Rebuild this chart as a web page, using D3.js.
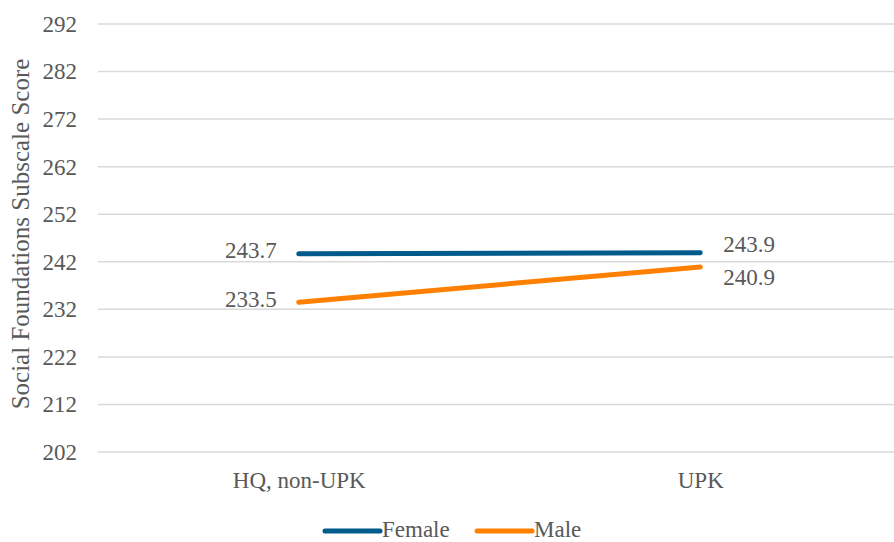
<!DOCTYPE html>
<html>
<head>
<meta charset="utf-8">
<script src="https://cdn.jsdelivr.net/npm/d3@7"></script>
<style>
  html, body { margin: 0; padding: 0; background: #fff; }
  #chart { width: 894px; height: 542px; }
  svg text { font-family: "Liberation Serif", "Times New Roman", Tinos, "DejaVu Serif", "Noto Serif", serif !important; fill: #595959; }
</style>
</head>
<body>
<div id="chart"></div>
<script>
// Social Foundations subscale score by program type, split by gender.
var categories = ['HQ, non-UPK', 'UPK'];
var femaleValues = [243.7, 243.9];
var maleValues = [233.5, 240.9];
var yTickValues = [202, 212, 222, 232, 242, 252, 262, 272, 282, 292];
var seriesNames = ['Female', 'Male'];
var seriesColors = ['#005a8c', '#ff8000'];

(function () {
    var W = 894, H = 542;
    var margin = { top: 24, right: -7, bottom: 90, left: 98 };
    var innerW = W - margin.left - margin.right;
    var innerH = H - margin.top - margin.bottom;
    var fs = 23;

    var svg = d3.select('#chart').append('svg')
        .attr('width', W).attr('height', H);

    var g = svg.append('g')
        .attr('transform', 'translate(' + margin.left + ',' + margin.top + ')');

    var x = d3.scalePoint().domain(categories).range([0, innerW]).padding(0.5);
    var y = d3.scaleLinear().domain([202, 292]).range([innerH, 0]);

    // Gridlines
    g.selectAll('line.grid')
        .data(yTickValues)
        .enter().append('line')
        .attr('class', 'grid')
        .attr('x1', 0).attr('x2', innerW)
        .attr('y1', function (d) { return y(d); })
        .attr('y2', function (d) { return y(d); })
        .attr('stroke', '#d9d9d9').attr('stroke-width', 1.5);

    // Y axis labels
    var yAxisG = g.append('g')
        .call(d3.axisLeft(y).tickValues(yTickValues).tickSize(0).tickPadding(21));
    yAxisG.select('.domain').remove();
    yAxisG.attr('font-family', null);
    yAxisG.selectAll('text').attr('font-size', fs).attr('fill', '#595959');

    // X axis labels
    var xAxisG = g.append('g')
        .attr('transform', 'translate(0,' + innerH + ')')
        .call(d3.axisBottom(x).tickSize(0).tickPadding(20));
    xAxisG.select('.domain').remove();
    xAxisG.attr('font-family', null);
    xAxisG.selectAll('text').attr('font-size', fs).attr('fill', '#595959');

    // Series lines
    var series = [femaleValues, maleValues];
    var line = d3.line()
        .x(function (_, i) { return x(categories[i]); })
        .y(function (v) { return y(v); });

    series.forEach(function (vals, si) {
        g.append('path')
            .datum(vals)
            .attr('d', line)
            .attr('fill', 'none')
            .attr('stroke', seriesColors[si])
            .attr('stroke-width', 5)
            .attr('stroke-linecap', 'round');
    });

    // Data labels: left point labels to the left, right point labels to the right
    series.forEach(function (vals, si) {
        vals.forEach(function (v, i) {
            var left = i === 0;
            // female label above, male label below at the right end
            var dy = left ? '0.2em' : (si === 0 ? '-0.03em' : '0.78em');
            g.append('text')
                .attr('x', x(categories[i]) + (left ? -22 : 23))
                .attr('y', y(v))
                .attr('dy', dy)
                .attr('text-anchor', left ? 'end' : 'start')
                .attr('font-size', fs)
                .text(d3.format('.1f')(v));
        });
    });

    // Y axis title
    svg.append('text')
        .attr('transform', 'translate(29,234) rotate(-90)')
        .attr('text-anchor', 'middle')
        .attr('font-size', 25)
        .text('Social Foundations Subscale Score');

    // Legend
    var legend = svg.append('g').attr('transform', 'translate(0,' + 531 + ')');
    var legendX = [325, 477];
    seriesNames.forEach(function (name, i) {
        legend.append('line')
            .attr('x1', legendX[i]).attr('x2', legendX[i] + 55)
            .attr('y1', 0).attr('y2', 0)
            .attr('stroke', seriesColors[i]).attr('stroke-width', 5)
            .attr('stroke-linecap', 'round');
        legend.append('text')
            .attr('x', legendX[i] + 57)
            .attr('y', 0).attr('dy', '0.26em')
            .attr('font-size', fs)
            .text(name);
    });
})();
</script>
</body>
</html>
